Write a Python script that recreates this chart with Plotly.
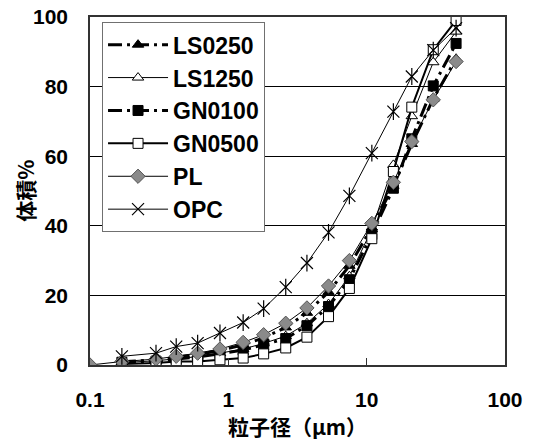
import plotly.graph_objects as go

# Particle size (µm) at each measurement channel
size_um = [0.1, 0.17, 0.3, 0.42, 0.6, 0.87, 1.28, 1.8, 2.6, 3.7, 5.3, 7.5,
           10.9, 15.6, 21.2, 30.3, 44.3]
size_no_first = size_um[1:]

# Cumulative volume (%) for each powder
ls0250 = [0.9, 1.5, 2.2, 3.0, 4.2, 5.8, 7.8, 10.8, 15.0, 21.0, 28.5, 39.5, 51.5, 63.5, 76.5, 88.0]
ls1250 = [0.7, 1.2, 1.8, 2.4, 3.4, 4.6, 6.2, 8.3, 12.0, 17.5, 25.5, 39.0, 57.5, 71.5, 87.0, 95.8]
gn0100 = [0.8, 1.1, 1.7, 2.3, 3.2, 4.3, 5.8, 7.6, 11.3, 16.8, 24.5, 37.5, 50.8, 65.0, 80.2, 92.4]
gn0500 = [0.3, 0.6, 1.0, 1.0, 1.5, 2.0, 3.2, 4.9, 8.0, 13.9, 22.0, 36.3, 55.6, 74.1, 90.6, 99.0]
pl = [0.0, 1.0, 1.7, 2.5, 3.4, 4.6, 6.5, 8.7, 12.0, 16.4, 22.7, 30.0, 40.7, 52.5, 64.2, 76.2, 87.2]
opc = [2.5, 3.4, 5.3, 6.3, 9.2, 12.2, 16.2, 22.4, 29.3, 38.1, 48.6, 60.9, 72.8, 82.9, 90.5, 96.8]

x_ticks = [0.1, 1, 10, 100]
x_tick_text = ["<b>0.1</b>", "<b>1</b>", "<b>10</b>", "<b>100</b>"]
y_ticks = [0, 20, 40, 60, 80, 100]
y_tick_text = ["<b>%d</b>" % v for v in y_ticks]

LATIN = "Liberation Sans, Arial, sans-serif"
CJK = "Noto Sans CJK JP, sans-serif"
dash_dot = "14px,5px,3px,5px"

fig = go.Figure()

fig.add_trace(go.Scatter(
    x=size_no_first, y=ls0250, name="<b>LS0250</b>", mode="lines+markers", legendgroup="a",
    line=dict(color="black", width=3, dash=dash_dot),
    marker=dict(symbol="triangle-up", size=10, color="black", line=dict(color="black", width=1))))
fig.add_trace(go.Scatter(
    x=size_no_first, y=ls1250, name="<b>LS1250</b>", mode="lines+markers", legendgroup="b",
    line=dict(color="black", width=1),
    marker=dict(symbol="triangle-up", size=10, color="white", line=dict(color="black", width=1))))
fig.add_trace(go.Scatter(
    x=size_no_first, y=gn0100, name="<b>GN0100</b>", mode="lines+markers", legendgroup="c",
    line=dict(color="black", width=3, dash=dash_dot),
    marker=dict(symbol="square", size=10, color="black", line=dict(color="black", width=1))))
fig.add_trace(go.Scatter(
    x=size_no_first, y=gn0500, name="<b>GN0500</b>", mode="lines+markers", legendgroup="d",
    line=dict(color="black", width=2),
    marker=dict(symbol="square", size=10, color="white", line=dict(color="black", width=1))))
fig.add_trace(go.Scatter(
    x=size_um, y=pl, name="<b>PL</b>", mode="lines+markers", legendgroup="e",
    line=dict(color="black", width=1),
    marker=dict(symbol="diamond", size=11, color="#8a8a8a", line=dict(color="#555555", width=1))))
fig.add_trace(go.Scatter(
    x=size_no_first, y=opc, name="<b>OPC</b>", mode="lines+markers", legendgroup="f",
    line=dict(color="black", width=1),
    marker=dict(symbol="x-thin-open", size=12, color="black", line=dict(color="black", width=1.2))))
# vertical arm of the star marker
fig.add_trace(go.Scatter(
    x=size_no_first, y=opc, mode="markers", showlegend=False, legendgroup="f", hoverinfo="skip",
    marker=dict(symbol="line-ns-open", size=12, color="black", line=dict(color="black", width=1.2))))

fig.update_layout(
    width=533, height=441,
    margin=dict(l=90, r=28, t=17, b=76, autoexpand=False),
    paper_bgcolor="white", plot_bgcolor="white",
    font=dict(family=LATIN, size=21, color="black"),
    showlegend=True,
    legend=dict(
        x=0.029, y=0.985, xanchor="left", yanchor="top",
        bgcolor="white", bordercolor="#707070", borderwidth=1,
        font=dict(family=LATIN, size=23, color="black"),
        itemwidth=60, tracegroupgap=0,
    ),
    xaxis=dict(
        type="log", range=[-1, 2],
        tickvals=x_ticks, ticktext=x_tick_text,
        ticks="inside", ticklen=7, tickcolor="#333333", tickwidth=1,
        showgrid=False, zeroline=False,
        showline=True, linecolor="#333333", linewidth=1.5, mirror=True,
        ticklabelstandoff=15, automargin=False,
        tickfont=dict(family=LATIN, size=21),
        title=dict(text="<b>粒子径（μm）</b>", standoff=8,
                   font=dict(family=CJK, size=21)),
    ),
    yaxis=dict(
        range=[0, 100], tickvals=y_ticks, ticktext=y_tick_text,
        ticks="", showgrid=True, gridcolor="black", gridwidth=1,
        zeroline=False,
        showline=True, linecolor="#333333", linewidth=1.5, mirror=True,
        ticklabelstandoff=16, automargin=False,
        tickfont=dict(family=LATIN, size=21),
    ),
    annotations=[dict(
        text="<b>体積%</b>", textangle=-90, showarrow=False,
        xref="paper", yref="paper", x=-0.157, y=0.5, xanchor="center", yanchor="middle",
        font=dict(family=CJK, size=21, color="black"),
    )],
)

fig.write_html("out.html")
